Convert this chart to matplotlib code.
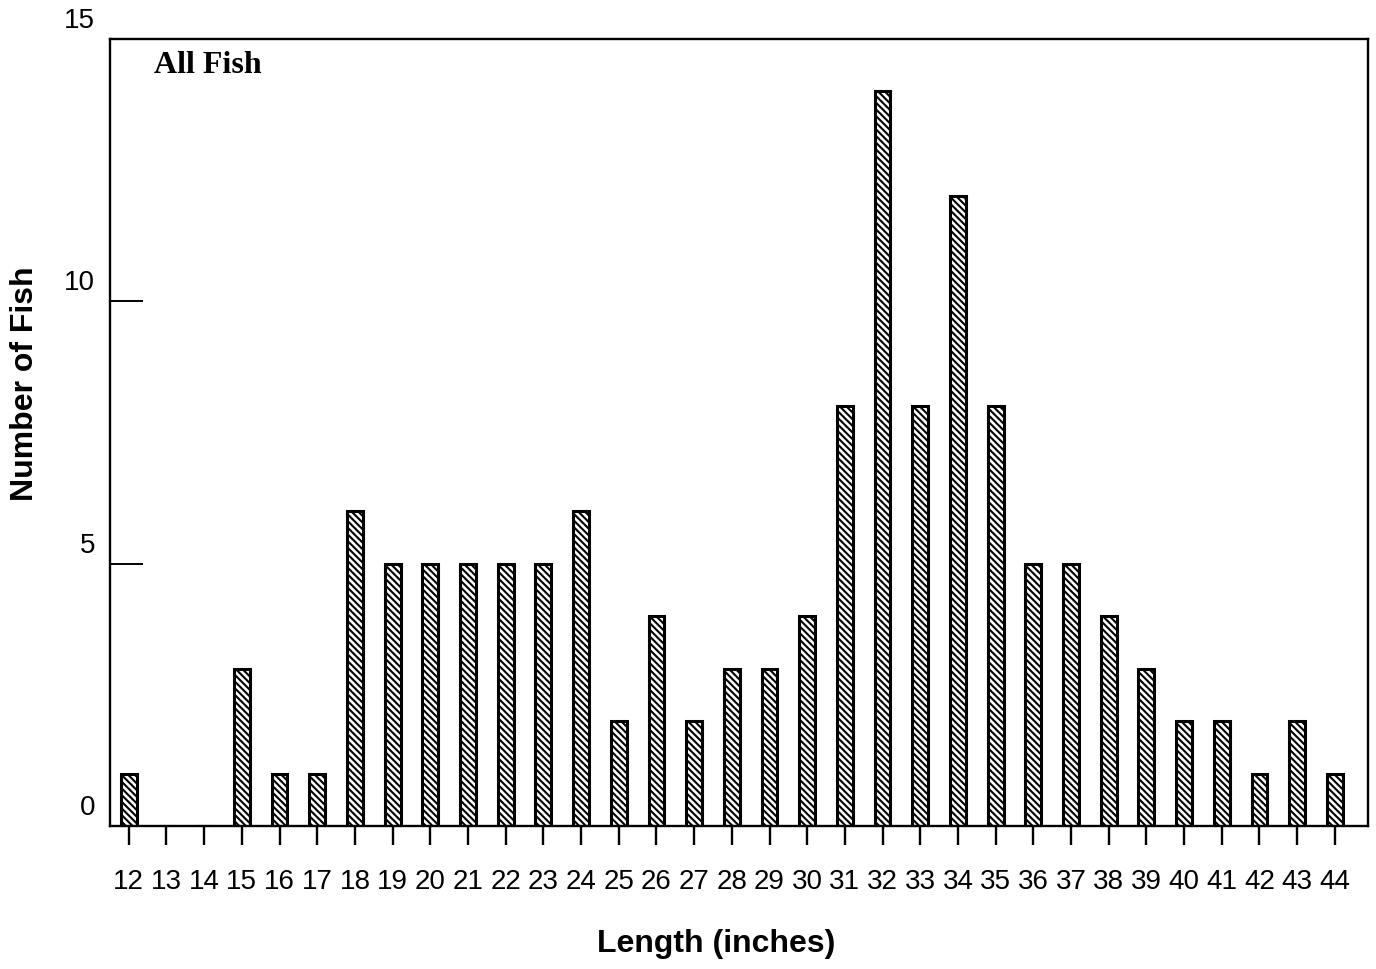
import matplotlib
matplotlib.use("Agg")
import matplotlib.pyplot as plt
import matplotlib.transforms as mtransforms

plt.rcParams['font.family'] = ['Liberation Sans', 'DejaVu Sans']
plt.rcParams['hatch.linewidth'] = 1.5

lengths = list(range(12, 45))
counts = [1, 0, 0, 3, 1, 1, 6, 5, 5, 5, 5, 5, 6, 2, 4, 2, 3, 3, 4, 8,
          14, 8, 12, 8, 5, 5, 4, 3, 2, 2, 1, 2, 1]
y_ticks = [0, 5, 10, 15]

fig = plt.figure(figsize=(13.76, 9.69), dpi=100)
ax = fig.add_axes([0.0799, 0.1476, 0.9143, 0.8122])

ax.bar(lengths, counts, width=0.42, color='white', edgecolor='black',
       linewidth=2.2, hatch='\\\\\\\\\\')

ax.set_xlim(11.5, 44.88)
ax.set_ylim(0, 15)

for s in ax.spines.values():
    s.set_linewidth(1.7)

ax.set_xticks(lengths)
ax.set_xticklabels([str(v) for v in lengths], fontsize=20)
ax.tick_params(axis='x', direction='out', length=14, width=1.7, pad=17)

# y ticks drawn inward, labels sit above the tick
ax.set_yticks([5, 10])
ax.set_yticklabels([])
ax.tick_params(axis='y', direction='in', length=24, width=1.4)
off = mtransforms.ScaledTranslation(-15 / 100, 18 / 100, fig.dpi_scale_trans)
for v in y_ticks:
    ax.text(0, v, str(v), transform=ax.get_yaxis_transform() + off,
            ha='right', va='center', fontsize=20)

ax.set_xlabel('Length (inches)', fontsize=23, fontweight='bold', va='center')
ax.xaxis.set_label_coords(0.482, -0.15)
ax.set_ylabel('Number of Fish', fontsize=23, fontweight='bold', va='center')
ax.yaxis.set_label_coords(-0.0676, 0.562)

ax.text(0.035, 0.985, 'All Fish', transform=ax.transAxes, ha='left', va='top',
        fontsize=23, fontweight='bold', family=['Liberation Serif'])

fig.savefig('out.png', dpi=100)
